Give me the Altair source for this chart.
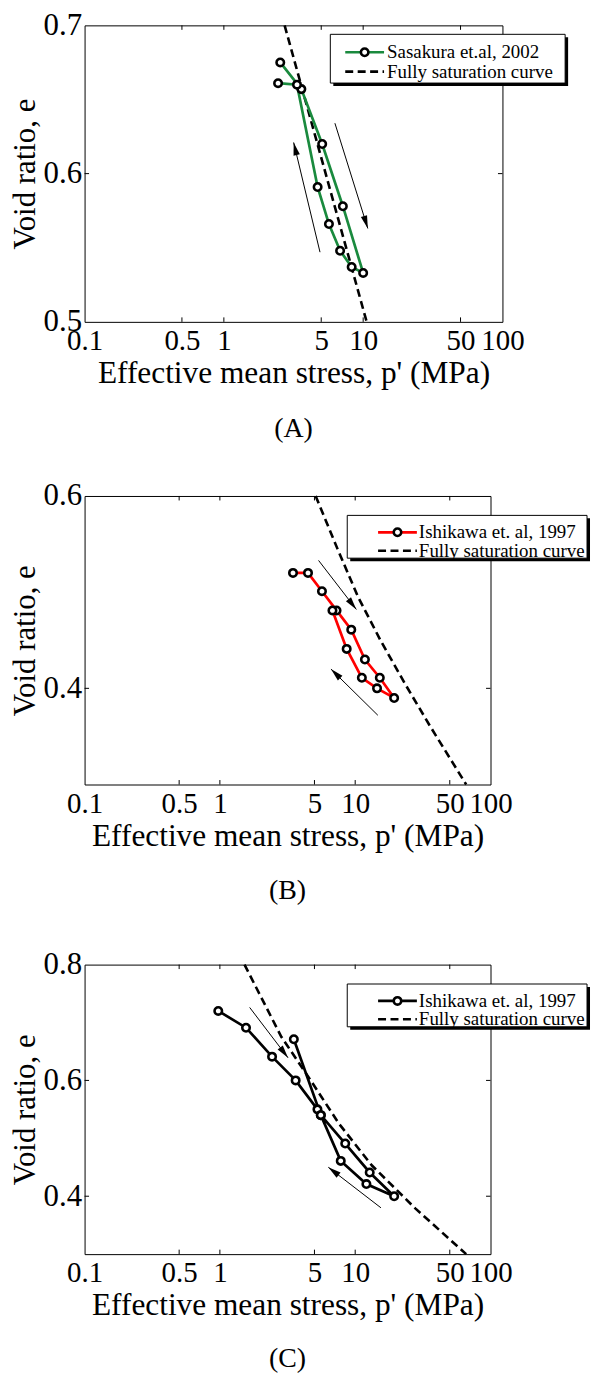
import math
import altair as alt
import pandas as pd

FONT = "Liberation Serif"
X_TICKS = [0.1, 0.5, 1, 5, 10, 50, 100]
X_INNER = [0.5, 1, 5, 10, 50]
SAT_LABEL = "Fully saturation curve"
X_TITLE = "Effective mean stress, p' (MPa)"
Y_TITLE = "Void ratio, e"

# ---------------- Panel (A) ----------------
a_label = "Sasakura et.al, 2002"
a_p = [2.54, 3.60, 5.08, 7.15, 10.0, 8.27, 6.83, 5.68, 4.71, 3.35, 2.45]
a_e = [0.675, 0.657, 0.620, 0.578, 0.533, 0.537, 0.548, 0.566, 0.591, 0.660, 0.661]
a_sat_p = [2.73, 10.6]
a_sat_e = [0.700, 0.500]
a_tail_p = [4.90, 6.27]
a_tail_e = [0.547, 0.634]
a_head_p = [3.17, 10.8]
a_head_e = [0.621, 0.563]
a_y_ticks = [0.5, 0.6, 0.7]

# ---------------- Panel (B) ----------------
b_label = "Ishikawa et. al, 1997"
b_p = [3.47, 4.48, 5.68, 7.28, 9.35, 11.8, 15.2, 19.4, 14.5, 11.2, 8.65, 6.79]
b_e = [0.520, 0.520, 0.501, 0.481, 0.461, 0.430, 0.411, 0.390, 0.400, 0.411, 0.441, 0.481]
b_sat_p = [5.10, 7.40, 10.5, 15.5, 23.5, 36.0, 66.1]
b_sat_e = [0.600, 0.545, 0.495, 0.449, 0.404, 0.360, 0.300]
b_tail_p = [5.36, 14.7]
b_tail_e = [0.533, 0.372]
b_head_p = [10.2, 6.62]
b_head_e = [0.482, 0.420]
b_y_ticks = [0.4, 0.6]

# ---------------- Panel (C) ----------------
c_label = "Ishikawa et. al, 1997"
c_p = [0.973, 1.56, 2.43, 3.63, 5.26, 5.57, 7.82, 12.1, 19.4, 12.8, 8.44, 5.57, 3.52]
c_e = [0.720, 0.691, 0.641, 0.600, 0.550, 0.540, 0.461, 0.421, 0.400, 0.441, 0.491, 0.540, 0.671]
c_sat_p = [1.52, 2.85, 4.60, 7.60, 13.3, 27.8, 66.1]
c_sat_e = [0.800, 0.675, 0.603, 0.525, 0.453, 0.379, 0.300]
c_tail_p = [1.66, 15.5]
c_tail_e = [0.726, 0.380]
c_head_p = [3.19, 6.33]
c_head_e = [0.639, 0.450]
c_y_ticks = [0.4, 0.6, 0.8]

HEAD = "M0,0L0.25,1L-0.25,1Z"
TL = 4.5
MSIZE = 56
MSTROKE = 2.6


def panel(label, color, p, e, sat_p, sat_e, tp, te, hp, he, y_dom, y_ticks,
          W, H, leg, caption, cap_offset):
    xs = alt.Scale(type="log", domain=[0.1, 100], nice=False)
    ys = alt.Scale(domain=y_dom, nice=False, zero=False)
    x_axis = alt.Axis(values=X_TICKS, format="~g", title=X_TITLE,
                      labelFont=FONT, labelFontSize=29, labelPadding=5,
                      titleFont=FONT, titleFontSize=31.5, titlePadding=2,
                      titleFontWeight="normal", labelColor="black",
                      titleColor="black", ticks=False, tickSize=0,
                      domain=False, grid=False, labelOverlap=False,
                      labelFlush=False)
    y_axis = alt.Axis(values=y_ticks, format=".1f", title=Y_TITLE,
                      labelFont=FONT, labelFontSize=31, labelPadding=3,
                      titleFont=FONT, titleFontSize=31, titlePadding=2,
                      titleFontWeight="normal", labelColor="black",
                      titleColor="black", ticks=False, tickSize=0,
                      domain=False, grid=False, labelOverlap=False,
                      labelFlush=False)

    def X(f):
        return alt.X(f, type="quantitative", scale=xs, axis=x_axis)

    def Y(f):
        return alt.Y(f, type="quantitative", scale=ys, axis=y_axis)

    def sx(v):
        return W * (math.log10(v) + 1) / 3

    def sy(v):
        return H * (y_dom[1] - v) / (y_dom[1] - y_dom[0])

    df = pd.DataFrame({"p": p, "e": e, "i": list(range(len(p)))})
    sat = pd.DataFrame({"p": sat_p, "e": sat_e, "i": list(range(len(sat_p)))})
    angs = []
    for a, b, c, d in zip(tp, te, hp, he):
        dx = sx(c) - sx(a)
        dy = sy(d) - sy(b)
        angs.append(math.degrees(math.atan2(dx, -dy)) % 360)
    arr = pd.DataFrame({"tp": tp, "te": te, "hp": hp, "he": he, "ang": angs})

    xt = pd.DataFrame({"v": X_INNER})
    yt = pd.DataFrame({"v": [v for v in y_ticks if y_dom[0] < v < y_dom[1]]})

    layers = []
    layers.append(alt.Chart(xt).mark_rule(color="black", strokeWidth=1).encode(
        x=X("v"), y=alt.value(H), y2=alt.value(H - TL)))
    layers.append(alt.Chart(xt).mark_rule(color="black", strokeWidth=1).encode(
        x=X("v"), y=alt.value(0), y2=alt.value(TL)))
    if len(yt):
        layers.append(alt.Chart(yt).mark_rule(color="black", strokeWidth=1).encode(
            y=Y("v"), x=alt.value(0), x2=alt.value(TL)))
        layers.append(alt.Chart(yt).mark_rule(color="black", strokeWidth=1).encode(
            y=Y("v"), x=alt.value(W - TL), x2=alt.value(W)))

    layers.append(alt.Chart(sat).mark_line(color="black", strokeWidth=2.6,
                                           strokeDash=[8, 4.5]).encode(
        x=X("p"), y=Y("e"), order="i:Q"))
    layers.append(alt.Chart(df).mark_line(color=color, strokeWidth=2.7).encode(
        x=X("p"), y=Y("e"), order="i:Q"))
    layers.append(alt.Chart(df).mark_point(shape="circle", filled=True, fill="white",
                                           stroke="black", strokeWidth=MSTROKE, size=MSIZE,
                                           opacity=1).encode(x=X("p"), y=Y("e")))
    layers.append(alt.Chart(arr).mark_rule(color="black", strokeWidth=1).encode(
        x=X("tp"), y=Y("te"), x2=alt.X2("hp"), y2=alt.Y2("he")))
    layers.append(alt.Chart(arr).mark_point(shape=HEAD, filled=True, color="black",
                                            size=676, opacity=1, strokeWidth=0).encode(
        x=X("hp"), y=Y("he"), angle=alt.Angle("ang:Q", scale=None)))

    # legend
    one = pd.DataFrame({"t": [label]})
    two = pd.DataFrame({"t": [SAT_LABEL]})
    bx0, bx1, by0, by1 = leg["box"]
    r1, r2 = leg["rows"]
    l0, l1 = leg["line"]
    layers.append(alt.Chart(one).mark_rect(color="black").encode(
        x=alt.value(bx0 + 3), x2=alt.value(bx1 + 3),
        y=alt.value(by0 + 3), y2=alt.value(by1 + 3)))
    layers.append(alt.Chart(one).mark_rect(fill="white", stroke="black", strokeWidth=1).encode(
        x=alt.value(bx0), x2=alt.value(bx1), y=alt.value(by0), y2=alt.value(by1)))
    layers.append(alt.Chart(one).mark_rule(color=color, strokeWidth=2.7).encode(
        x=alt.value(l0), x2=alt.value(l1), y=alt.value(r1)))
    layers.append(alt.Chart(one).mark_point(shape="circle", filled=True, fill="white",
                                            stroke="black", strokeWidth=MSTROKE, size=MSIZE,
                                            opacity=1).encode(
        x=alt.value((l0 + l1) / 2), y=alt.value(r1)))
    layers.append(alt.Chart(two).mark_rule(color="black", strokeWidth=2.6,
                                           strokeDash=[8, 4.5]).encode(
        x=alt.value(l0), x2=alt.value(l1), y=alt.value(r2)))
    layers.append(alt.Chart(one).mark_text(align="left", baseline="middle", font=FONT,
                                           fontSize=leg["fs"], color="black").encode(
        x=alt.value(leg["tx"]), y=alt.value(r1), text="t:N"))
    layers.append(alt.Chart(two).mark_text(align="left", baseline="middle", font=FONT,
                                           fontSize=leg["fs"], color="black").encode(
        x=alt.value(leg["tx"]), y=alt.value(r2), text="t:N"))

    return alt.layer(*layers).properties(
        width=W, height=H,
        title=alt.TitleParams(caption, orient="bottom", anchor="middle", frame="group",
                              baseline="top", font=FONT, fontSize=28,
                              fontWeight="normal", color="black", offset=cap_offset))


leg_a = {"box": (247, 483, 9, 58), "rows": (27, 46.5), "line": (262, 301),
         "tx": 304, "fs": 19}
leg_bc = {"box": (264, 505, 19.5, 62.5), "rows": (36.5, 55), "line": (295, 334),
          "tx": 336, "fs": 19}

pa = panel(a_label, "#1a8a3e", a_p, a_e, a_sat_p, a_sat_e, a_tail_p, a_tail_e,
           a_head_p, a_head_e, [0.5, 0.7], a_y_ticks, 420, 298, leg_a, "(A)", 26)
pb = panel(b_label, "#ff0000", b_p, b_e, b_sat_p, b_sat_e, b_tail_p, b_tail_e,
           b_head_p, b_head_e, [0.3, 0.6], b_y_ticks, 408, 290, leg_bc, "(B)", 26)
pc = panel(c_label, "black", c_p, c_e, c_sat_p, c_sat_e, c_tail_p, c_tail_e,
           c_head_p, c_head_e, [0.3, 0.8], c_y_ticks, 408, 291, leg_bc, "(C)", 24)

chart = alt.vconcat(alt.vconcat(pa, pb, spacing=36), pc, spacing=42).properties(
    padding={"left": 8, "top": 5, "right": 0, "bottom": 0},
    background="white",
).configure_view(stroke="black", strokeWidth=1)

chart.save("out.html", embed_options={"renderer": "svg", "actions": False})
